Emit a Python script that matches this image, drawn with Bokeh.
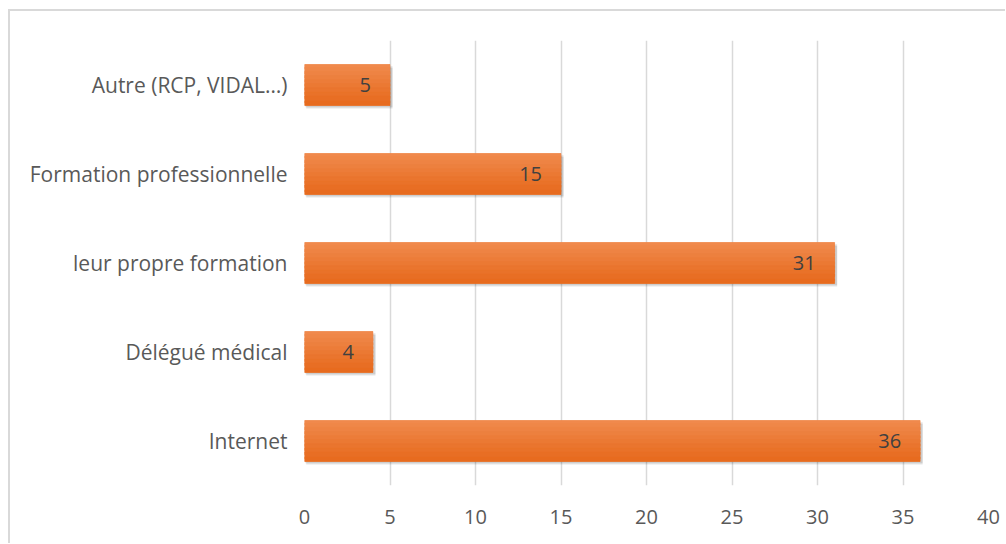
from bokeh.plotting import figure
from bokeh.models import ColumnDataSource, FixedTicker, LabelSet
from bokeh.core.properties import value
from bokeh.transform import dodge
from bokeh.embed import file_html
from bokeh.resources import INLINE

categories = ["Autre (RCP, VIDAL…)", "Formation professionnelle", "leur propre formation", "Délégué médical", "Internet"]
values = [5, 15, 31, 4, 36]
x_ticks = [0, 5, 10, 15, 20, 25, 30, 35, 40]

FONT = "Open Sans"
TXT = "#595959"

factors = list(reversed(categories))
src = ColumnDataSource(dict(cat=categories, val=values, lab=[str(v) for v in values],
                            shadow_right=[v + 0.15 for v in values]))

p = figure(y_range=factors, x_range=(0, 40), width=997, height=534,
           output_backend="svg", toolbar_location=None,
           min_border_left=294, min_border_top=29, min_border_right=19, min_border_bottom=60)
p.margin = (9, 0, 0, 8)
p.styles = {"border-top": "2px solid #d9d9d9", "border-left": "2px solid #d9d9d9"}
p.outline_line_color = None
p.background_fill_color = "white"
p.border_fill_color = "white"

BAR_H = 0.46
# shadow
p.hbar(y=dodge("cat", -0.035, range=p.y_range), left=0.1, right="shadow_right", height=BAR_H,
       source=src, fill_color="black", fill_alpha=0.10, line_color=None)
p.hbar(y=dodge("cat", -0.02, range=p.y_range), left=0.05, right="shadow_right", height=BAR_H,
       source=src, fill_color="black", fill_alpha=0.10, line_color=None)

# base bar then gradient strips on top
p.hbar(y="cat", left=0, right="val", height=BAR_H, source=src, fill_color="#ec7a35", line_color=None)
top = (0xF1, 0x8C, 0x50)
bot = (0xE6, 0x69, 0x1C)
n = 10
for i in range(n):
    t = (i + 0.5) / n
    c = tuple(int(round(top[k] + (bot[k] - top[k]) * t)) for k in range(3))
    col = "#%02x%02x%02x" % c
    off = BAR_H / 2 - (i + 0.5) * BAR_H / n
    h = BAR_H / n if i in (0, n - 1) else BAR_H / n * 1.6
    p.hbar(y=dodge("cat", off, range=p.y_range), left=0, right="val", height=h,
           source=src, fill_color=col, line_color=col, line_width=0.6)

labels = LabelSet(x="val", y="cat", text="lab", source=src, x_offset=-19, y_offset=0,
                  text_align="right", text_baseline="middle", text_font=value(FONT),
                  text_font_size="20px", text_color="#404040")
p.add_layout(labels)

p.xaxis.ticker = FixedTicker(ticks=x_ticks)
p.xaxis.axis_line_color = None
p.xaxis.major_tick_line_color = None
p.xaxis.minor_tick_line_color = None
p.xaxis.major_label_text_font = FONT
p.xaxis.major_label_text_font_size = "20px"
p.xaxis.major_label_text_color = TXT
p.xaxis.major_label_standoff = 18

p.yaxis.axis_line_color = None
p.yaxis.major_tick_line_color = None
p.yaxis.minor_tick_line_color = None
p.yaxis.major_label_text_font = FONT
p.yaxis.major_label_text_font_size = "21px"
p.yaxis.major_label_text_color = TXT
p.yaxis.major_label_standoff = 11

p.ygrid.grid_line_color = None
p.xgrid.grid_line_color = "#d9d9d9"
p.xgrid.grid_line_width = 1.5
p.y_range.range_padding = 0

open("out.html", "w").write(file_html(p, INLINE))
